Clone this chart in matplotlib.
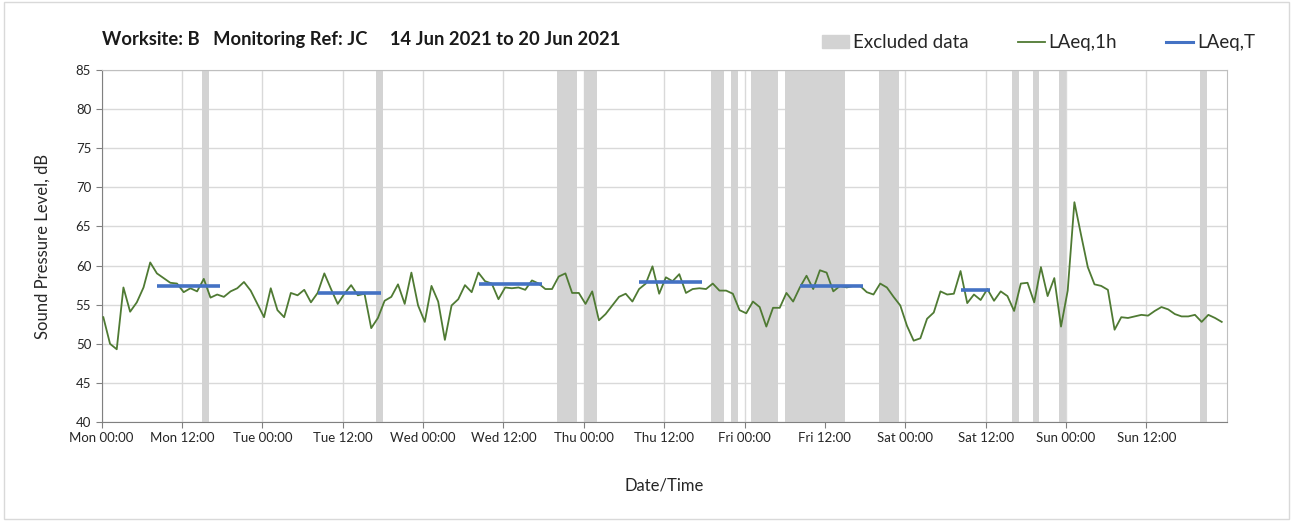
import numpy as np
import matplotlib.pyplot as plt
from matplotlib.patches import Patch, Rectangle
from matplotlib.lines import Line2D

plt.rcParams['font.family'] = ['Lato', 'DejaVu Sans']

# Hourly LAeq,1h values, Mon 00:00 .. Sun 23:00
laeq_1h = [
    53.4, 50.0, 49.3, 57.2, 54.1, 55.3, 57.2, 60.4, 59.0, 58.4,
    57.8, 57.7, 56.6, 57.1, 56.7, 58.3, 55.9, 56.3, 56.0, 56.7,
    57.1, 57.9, 56.8, 55.1, 53.4, 57.1, 54.3, 53.4, 56.5, 56.2,
    56.9, 55.3, 56.5, 59.0, 57.0, 55.1, 56.4, 57.5, 56.2, 56.4,
    52.0, 53.3,
    55.5, 56.0, 57.6, 55.1, 59.1, 54.9, 52.8, 57.4, 55.4, 50.5,
    54.9, 55.7, 57.5, 56.6, 59.1, 58.0, 57.7, 55.7, 57.2, 57.1,
    57.2, 56.9, 58.1, 57.7, 57.0, 57.0, 58.6, 59.0, 56.5, 56.5,
    55.1, 56.7, 53.0, 53.8, 54.9, 56.0, 56.4, 55.4, 57.0, 57.7,
    59.9, 56.4,
    58.5, 58.0, 58.9, 56.5, 57.0, 57.1, 57.0, 57.7, 56.8, 56.8,
    56.4, 54.3, 53.9, 55.4, 54.7, 52.2, 54.6, 54.6, 56.5, 55.4,
    57.2, 58.7, 57.0, 59.4, 59.1, 56.7, 57.4, 57.2, 57.4, 57.4,
    56.6, 56.3, 57.7, 57.2, 56.0, 54.9, 52.3, 50.4, 50.7, 53.2,
    54.0, 56.7,
    56.3, 56.4, 59.3, 55.2, 56.3, 55.6, 57.0, 55.5, 56.7, 56.1,
    54.2, 57.7, 57.8, 55.3, 59.8, 56.1, 58.4, 52.2, 56.8, 68.1,
    63.9, 59.8, 57.6, 57.4, 56.9, 51.8, 53.4, 53.3, 53.5, 53.7,
    53.6, 54.2, 54.7, 54.4, 53.8, 53.5, 53.5, 53.7, 52.8, 53.7,
    53.3, 52.8,
]
hours = np.arange(len(laeq_1h)) + 0.25

# LAeq,T over the working periods (hours from Mon 00:00)
laeqt_start = [8.3, 32.3, 56.3, 80.3, 104.3, 128.3]
laeqt_end = [17.7, 41.7, 65.7, 89.7, 113.7, 132.7]
laeqt_value = [57.4, 56.5, 57.7, 57.9, 57.4, 56.9]

# Excluded data periods (hours from Mon 00:00)
excl_start = [15, 41, 68, 72, 91, 94, 97, 102, 116, 136, 139, 143, 164]
excl_end = [16, 42, 71, 74, 93, 95, 101, 111, 119, 137, 140, 144, 165]

tick_hours = list(range(0, 168, 12))
day_names = ['Mon', 'Tue', 'Wed', 'Thu', 'Fri', 'Sat', 'Sun']
tick_labels = [f"{day_names[h // 24]} {h % 24:02d}:00" for h in tick_hours]

green = '#4f7a33'
blue = '#4472c4'
grey = '#d3d3d3'
text_col = '#262626'

fig = plt.figure(figsize=(12.95, 5.21), dpi=100)
fig.patches.append(Rectangle((0.003, 0.003), 0.992, 0.994, transform=fig.transFigure,
                             fill=False, edgecolor='#d9d9d9', linewidth=1))
ax = fig.add_axes([0.0785, 0.19, 0.8688, 0.6756])

for s, e in zip(excl_start, excl_end):
    ax.axvspan(s, e, color=grey, linewidth=0, zorder=1)

ax.plot(hours, laeq_1h, color=green, linewidth=1.3, zorder=3)
for s, e, v in zip(laeqt_start, laeqt_end, laeqt_value):
    ax.plot([s, e], [v, v], color=blue, linewidth=2.6, solid_capstyle='butt', zorder=4)

ax.set_xlim(0, 168)
ax.set_ylim(40, 85)
ax.set_yticks(range(40, 86, 5))
ax.set_xticks(tick_hours)
ax.set_xticklabels(tick_labels)
ax.grid(True, color='#d9d9d9', linewidth=1, zorder=0)
ax.set_axisbelow(True)
ax.tick_params(axis='both', labelsize=9.5, colors='#808080', labelcolor=text_col, length=4)

for side in ['top', 'right']:
    ax.spines[side].set_color('#bfbfbf')
for side in ['left', 'bottom']:
    ax.spines[side].set_color('#808080')

ax.set_xlabel('Date/Time', fontsize=12, color=text_col, labelpad=24)
ax.set_ylabel('Sound Pressure Level, dB', fontsize=12, color=text_col, labelpad=18)

fig.text(0.0785, 0.925, 'Worksite: B   Monitoring Ref: JC     14 Jun 2021 to 20 Jun 2021',
         fontsize=13.2, fontweight='bold', color='#1a1a1a', va='center')

handles = [Patch(color=grey, label='Excluded data'),
           Line2D([], [], color=green, linewidth=1.3, label='LAeq,1h'),
           Line2D([], [], color=blue, linewidth=2.2, label='LAeq,T')]
fig.legend(handles=handles, loc='center right', bbox_to_anchor=(0.982, 0.918), ncol=3,
           frameon=False, fontsize=13.5, handlelength=1.45, handletextpad=0.2,
           columnspacing=2.6, labelcolor=text_col)

fig.savefig('out.png', dpi=100)
